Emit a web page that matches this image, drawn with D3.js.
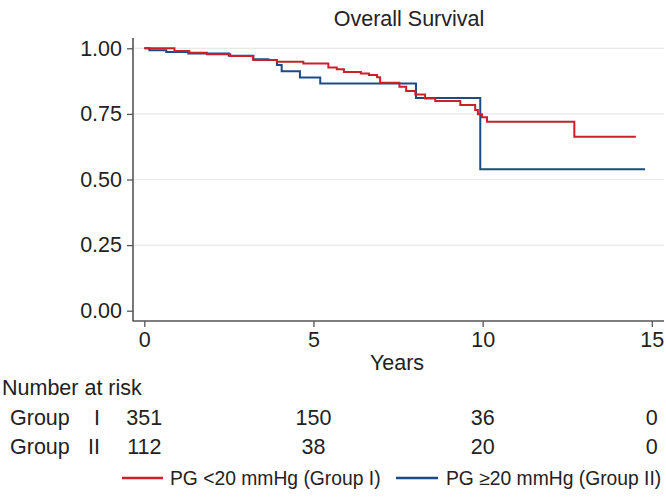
<!DOCTYPE html>
<html>
<head>
<meta charset="utf-8">
<script src="https://cdn.jsdelivr.net/npm/d3@7"></script>
<style>
  html, body { margin: 0; padding: 0; background: #fff; }
  text { font-family: "Liberation Sans", Arial, Helvetica, sans-serif; fill: #222; }
</style>
</head>
<body>
<svg id="chart" width="666" height="498"></svg>
<script>
// ---- data ----
const title = "Overall Survival";
const xTicks = [0, 5, 10, 15];
const yTicks = [0, 0.25, 0.5, 0.75, 1.0];
const groupI_times    = [0, 0.89, 1.33, 1.85, 2.54, 3.22, 3.92, 4.70, 5.44, 5.69, 5.90, 6.40, 6.64, 6.88, 6.97, 7.54, 7.74, 8.01, 8.30, 8.60, 9.34, 9.78, 9.86, 9.98, 10.13, 12.71, 14.53];
const groupI_surv     = [1.0, 0.990, 0.983, 0.977, 0.971, 0.955, 0.949, 0.942, 0.927, 0.920, 0.910, 0.904, 0.898, 0.890, 0.869, 0.853, 0.837, 0.824, 0.809, 0.799, 0.784, 0.765, 0.749, 0.737, 0.720, 0.663, 0.663];
const groupII_times   = [0, 0.15, 0.65, 1.30, 2.50, 3.22, 3.67, 3.92, 4.06, 4.60, 5.20, 8.03, 9.93, 14.80];
const groupII_surv    = [1.0, 0.993, 0.986, 0.980, 0.972, 0.958, 0.955, 0.936, 0.913, 0.889, 0.866, 0.811, 0.539, 0.539];
const riskTimes = [0, 5, 10, 15];
const riskGroupI  = [351, 150, 36, 0];
const riskGroupII = [112, 38, 20, 0];
const seriesNames = ["PG <20 mmHg (Group I)", "PG \u226520 mmHg (Group II)"];
const seriesColors = ["#cc1f2a", "#1d4a85"];

// ---- layout ----
const svg = d3.select("#chart");
const plotLeft = 133, plotRight = 664, plotTop = 38, plotBottom = 321;
const x = d3.scaleLinear().domain([0, 15]).range([144.3, 651.8]);
const y = d3.scaleLinear().domain([0, 1]).range([310.7, 48.3]);
const axisColor = "#555";
const fs = "21.5px";

// gridlines
svg.append("g").selectAll("line").data(yTicks.filter(d => d > 0)).join("line")
  .attr("x1", plotLeft + 1).attr("x2", plotRight)
  .attr("y1", d => y(d)).attr("y2", d => y(d))
  .attr("stroke", "#e8e8e8").attr("stroke-width", 1.2);

// y axis
const yAxis = d3.axisLeft(y).tickValues(yTicks).tickFormat(d3.format(".2f")).tickSize(6).tickPadding(5);
const gy = svg.append("g").attr("transform", `translate(${plotLeft},0)`).call(yAxis);
gy.select(".domain").remove();
gy.selectAll(".tick line").attr("stroke", axisColor).attr("stroke-width", 1.3);
gy.selectAll(".tick text").style("font-size", fs).attr("fill", "#222");
svg.append("line").attr("x1", plotLeft).attr("x2", plotLeft).attr("y1", plotTop).attr("y2", plotBottom + 0.5)
  .attr("stroke", axisColor).attr("stroke-width", 1.6);

// x axis
const xAxis = d3.axisBottom(x).tickValues(xTicks).tickFormat(d3.format("d")).tickSize(6).tickPadding(5);
const gx = svg.append("g").attr("transform", `translate(0,${plotBottom})`).call(xAxis);
gx.select(".domain").remove();
gx.selectAll(".tick line").attr("stroke", axisColor).attr("stroke-width", 1.3);
gx.selectAll(".tick text").style("font-size", fs).attr("fill", "#222");
svg.append("line").attr("x1", plotLeft).attr("x2", plotRight).attr("y1", plotBottom).attr("y2", plotBottom)
  .attr("stroke", axisColor).attr("stroke-width", 1.6);

// title & axis label
svg.append("text").attr("x", 409).attr("y", 26).attr("text-anchor", "middle").style("font-size", fs).text(title);
svg.append("text").attr("x", 397).attr("y", 370).attr("text-anchor", "middle").style("font-size", fs).text("Years");

// curves
const line = d3.line().x(d => x(d[0])).y(d => y(d[1])).curve(d3.curveStepAfter);
const seriesData = [
  d3.zip(groupI_times, groupI_surv),
  d3.zip(groupII_times, groupII_surv)
];
svg.append("path").datum(seriesData[1]).attr("d", line).attr("fill", "none")
  .attr("stroke", seriesColors[1]).attr("stroke-width", 2);
svg.append("path").datum(seriesData[0]).attr("d", line).attr("fill", "none")
  .attr("stroke", seriesColors[0]).attr("stroke-width", 2);

// number at risk
svg.append("text").attr("x", 2).attr("y", 395).style("font-size", fs).text("Number at risk");
const rows = [{label: "I", vals: riskGroupI, yb: 425}, {label: "II", vals: riskGroupII, yb: 454}];
rows.forEach(r => {
  svg.append("text").attr("x", 10).attr("y", r.yb).style("font-size", fs).text("Group");
  svg.append("text").attr("x", 100).attr("y", r.yb).attr("text-anchor", "end").style("font-size", fs).text(r.label);
  svg.append("g").selectAll("text").data(r.vals).join("text")
    .attr("x", (d, i) => x(riskTimes[i])).attr("y", r.yb)
    .attr("text-anchor", "middle").style("font-size", fs).text(d => d);
});

// legend
const legY = 478;
const legItems = [{x1: 122, x2: 163, tx: 170}, {x1: 396, x2: 438, tx: 446}];
legItems.forEach((l, i) => {
  svg.append("line").attr("x1", l.x1).attr("x2", l.x2).attr("y1", legY).attr("y2", legY)
    .attr("stroke", seriesColors[i]).attr("stroke-width", 2.5);
  svg.append("text").attr("x", l.tx).attr("y", legY + 7).style("font-size", "19.3px").text(seriesNames[i]);
});
</script>
</body>
</html>
